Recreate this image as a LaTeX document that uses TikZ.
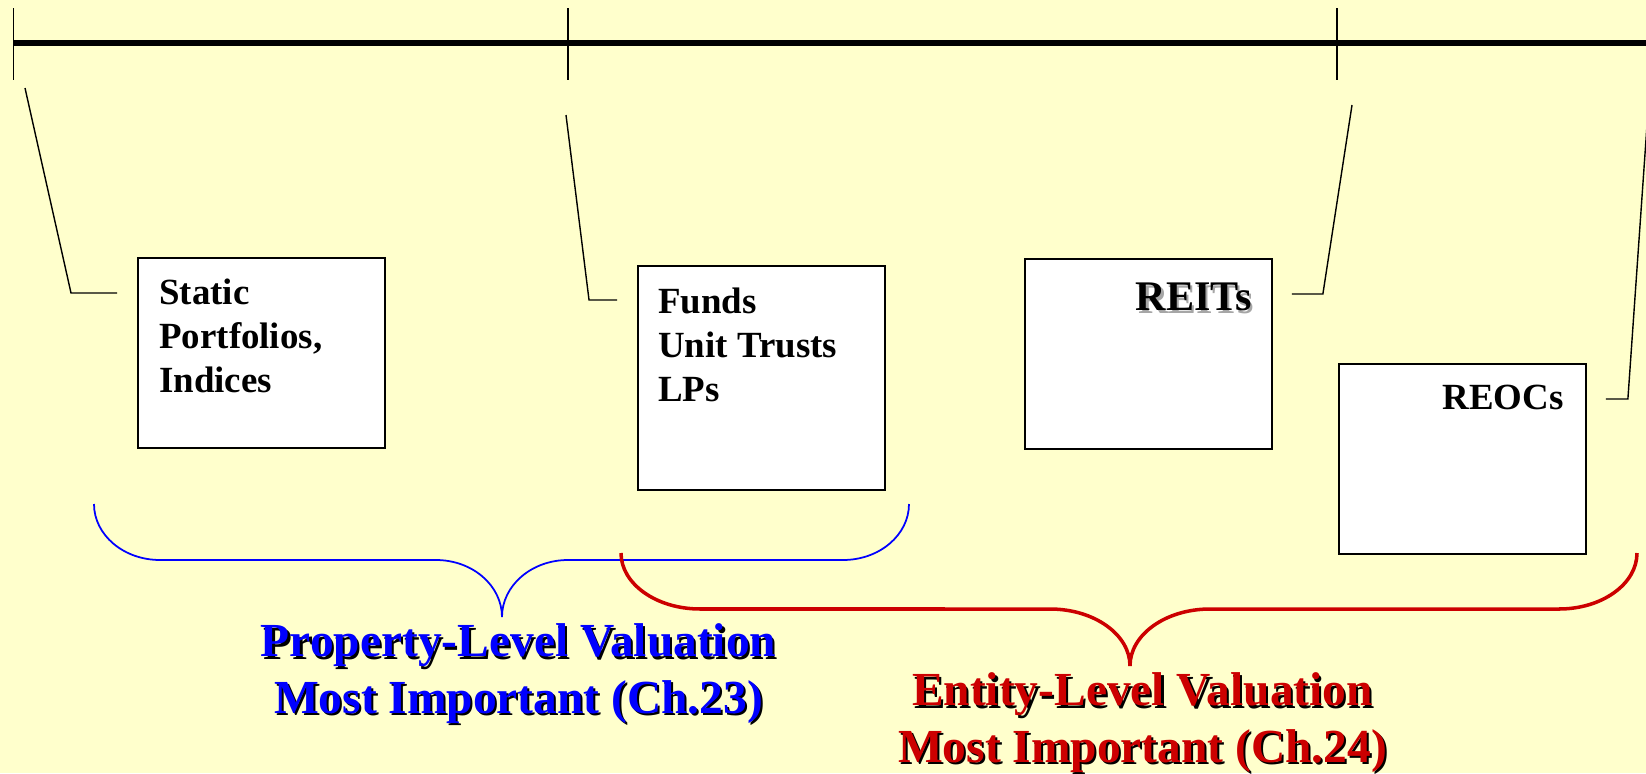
\documentclass[tikz,border=0pt]{standalone}
\usepackage{fontspec}
\setmainfont{Liberation Serif}
\usetikzlibrary{positioning}
\definecolor{paper}{RGB}{255,255,204}
\definecolor{propblue}{RGB}{0,0,255}
\definecolor{entred}{RGB}{204,0,0}
\newcommand{\shadowed}[3][black]{\leavevmode\rlap{\kern1.2pt\raisebox{-1.2pt}{\color{#1}#3}}{\color{#2}#3}}

\begin{document}
\begin{tikzpicture}[
  box/.style={draw, line width=1.1pt, fill=white, anchor=north west, minimum width=4.94cm, minimum height=3.8cm, inner sep=0pt},
  boxtext/.style={anchor=base west, align=left, inner sep=0pt, font=\bfseries\fontsize{21}{25.3}\selectfont},
  lead/.style={line width=0.8pt},
  valtext/.style={anchor=base, align=center, inner sep=0pt, font=\bfseries\fontsize{27}{31.9}\selectfont}
]
\def\x{0.02}
\fill[paper] (0,0) rectangle (1646*\x,-773*\x);
\useasboundingbox (0,0) rectangle (1646*\x,-773*\x);

% time line
\draw[line width=3.2pt] (13*\x,-43*\x) -- (1646*\x,-43*\x);
\foreach \t in {13.5,568,1337} \draw[line width=1pt] (\t*\x,-8*\x) -- (\t*\x,-80*\x);

% boxes
\node[box] (static) at (137*\x,-257*\x) {};
\node[box, minimum height=4.48cm] (funds) at (637*\x,-265*\x) {};
\node[box] (reits) at (1024*\x,-258*\x) {};
\node[box] (reocs) at (1338*\x,-363*\x) {};

% multi-line text sits on its last line
\node[boxtext] (statictext) at ([xshift=0.44cm, yshift=-2.72cm]static.north west) {Static\\Portfolios,\\Indices};
\node[boxtext] (fundstext) at ([xshift=0.42cm, yshift=-2.74cm]funds.north west) {Funds\\Unit Trusts\\LPs};
\node[anchor=base east, inner sep=0pt, font=\bfseries\fontsize{24}{29}\selectfont] (reitstext) at ([xshift=-0.42cm, yshift=-1.06cm]reits.north east) {\shadowed[black!35]{black}{REITs}};
\node[anchor=base east, inner sep=0pt, font=\bfseries\fontsize{21}{25.3}\selectfont] (reocstext) at ([xshift=-0.46cm, yshift=-0.94cm]reocs.north east) {REOCs};

% leaders
\coordinate (lead1) at (25*\x,-88*\x);
\coordinate (lead2) at (566*\x,-115*\x);
\coordinate (lead3) at (1352*\x,-105*\x);
\coordinate (lead4) at (1647*\x,-125*\x);
\draw[lead] (lead1) -- ([xshift=-1.32cm, yshift=-0.72cm]static.north west) -- ([xshift=-0.4cm, yshift=-0.72cm]static.north west);
\draw[lead] (lead2) -- ([xshift=-0.96cm, yshift=-0.7cm]funds.north west) -- ([xshift=-0.4cm, yshift=-0.7cm]funds.north west);
\draw[lead] (lead3) -- ([xshift=1cm, yshift=-0.72cm]reits.north east) -- ([xshift=0.38cm, yshift=-0.72cm]reits.north east);
\draw[lead] (lead4) -- ([xshift=0.82cm, yshift=-0.72cm]reocs.north east) -- ([xshift=0.38cm, yshift=-0.72cm]reocs.north east);

% braces
\draw[propblue, line width=1pt] (94*\x,-504*\x) arc[start angle=180, end angle=270, x radius=1.32, y radius=1.12]
  -- (436*\x,-560*\x) arc[start angle=90, end angle=0, x radius=1.32, y radius=1.14]
  arc[start angle=180, end angle=90, x radius=1.32, y radius=1.14]
  -- (843*\x,-560*\x) arc[start angle=270, end angle=360, x radius=1.32, y radius=1.12];
\draw[entred, line width=2pt] (621*\x,-553*\x) arc[start angle=180, end angle=270, x radius=1.58, y radius=1.12]
  -- (1050*\x,-609*\x) arc[start angle=90, end angle=0, x radius=1.6, y radius=1.14]
  arc[start angle=180, end angle=90, x radius=1.6, y radius=1.14]
  -- (1559*\x,-609*\x) arc[start angle=270, end angle=360, x radius=1.56, y radius=1.12];

\node[valtext] (property) at (518.5*\x,-713*\x) {\shadowed{propblue}{Property-Level Valuation}\\\shadowed{propblue}{Most Important (Ch.23)}};
\node[valtext] (entity) at (1142.5*\x,-762*\x) {\shadowed{entred}{Entity-Level Valuation}\\\shadowed{entred}{Most Important (Ch.24)}};
\end{tikzpicture}
\end{document}
